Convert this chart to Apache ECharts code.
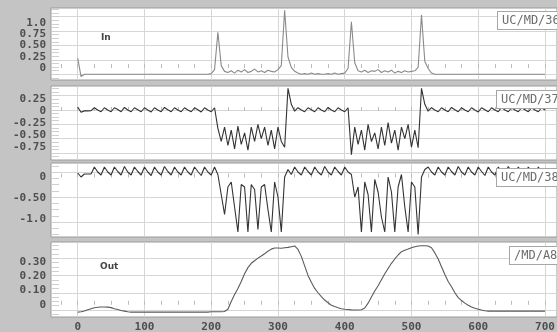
<!DOCTYPE html>
<html>
<head>
<meta charset="utf-8">
<script src="https://cdn.jsdelivr.net/npm/echarts@6/dist/echarts.min.js"></script>
<style>
  html, body { margin: 0; padding: 0; background: #c4c4c4; }
  #chart { width: 557px; height: 332px; }
</style>
</head>
<body>
<div id="chart"></div>
<script>
// sample positions (time axis)
const xs = [0,5,10,15,20,25,30,35,40,45,50,55,60,65,70,75,80,85,90,95,
  100,105,110,115,120,125,130,135,140,145,150,155,160,165,170,175,180,185,190,195,
  200,205,210,215,220,225,230,235,240,245,250,255,260,265,270,275,280,285,290,295,
  300,305,310,315,320,325,330,335,340,345,350,355,360,365,370,375,380,385,390,395,
  400,405,410,415,420,425,430,435,440,445,450,455,460,465,470,475,480,485,490,495,
  500,505,510,515,520,525,530,535,540,545,550,555,560,565,570,575,580,585,590,595,
  600,605,610,615,620,625,630,635,640,645,650,655,660,665,670,675,680,685,690,695,700];

// "In" trace
const inSig = [0.28,-0.04,0,0,0,0,0,0,0,0,
  0,0,0,0,0,0,0,0,0,0,
  0,0,0,0,0,0,0,0,0,0,
  0,0,0,0,0,0,0,0,0,0,
  0.01,0.08,0.73,0.15,0.05,0.03,0.06,0.02,0.07,0.04,
  0.08,0.03,0.05,0.09,0.04,0.06,0.03,0.07,0.05,0.04,
  0.08,0.15,1.11,0.3,0.12,0.05,0.02,0,0.01,0,
  0.02,0,0.01,0,0,0.01,0,0.02,0,0.01,
  0.02,0.1,0.91,0.2,0.06,0.04,0.07,0.03,0.06,0.05,
  0.08,0.03,0.06,0.04,0.07,0.02,0.05,0.03,0.06,0.04,
  0.05,0.06,0.12,1.03,0.22,0.1,0.02,0,0,0,
  0,0,0,0,0,0,0,0,0,0,
  0,0,0,0,0,0,0,0,0,0,
  0,0,0,0,0,0,0,0,0,0,
  0];

// UC/MD/37 trace
const md37 = [0.05,-0.04,-0.015,-0.015,-0.01,0.04,0,-0.03,0.04,0,
  -0.03,0.04,0.01,-0.03,0.045,0,-0.03,0.04,0.005,-0.03,
  0.04,0,-0.035,0.04,0,-0.03,0.045,0.005,-0.03,0.04,
  0,-0.03,0.04,0,-0.03,0.04,0.005,-0.035,0.04,0,
  -0.03,0.04,-0.32,-0.55,-0.3,-0.62,-0.35,-0.68,-0.28,-0.6,
  -0.4,-0.7,-0.3,-0.55,-0.25,-0.5,-0.3,-0.62,-0.35,-0.68,
  -0.3,-0.55,-0.65,0.38,0.1,-0.02,0.04,0,-0.03,0.04,
  0.005,-0.03,0.04,0,-0.03,0.045,0,-0.03,0.04,0,
  -0.03,0.04,-0.78,-0.3,-0.6,-0.35,-0.7,-0.25,-0.55,-0.4,
  -0.68,-0.3,-0.62,-0.22,-0.58,-0.35,-0.7,-0.3,-0.5,-0.25,
  -0.65,-0.35,-0.66,0.38,0.1,-0.02,0.04,0,-0.03,0.04,
  0,-0.03,0.045,0.005,-0.03,0.04,0,-0.03,0.04,0,
  -0.035,0.04,0.005,-0.03,0.04,0,-0.03,0.045,0,-0.03,
  0.04,0,-0.03,0.04,0.005,-0.03,0.04,0,-0.03,0.04,
  0];

// UC/MD/38 trace
const md38 = [-0.02,-0.1,-0.04,-0.04,-0.04,0.1,0,-0.06,0.1,0,
  -0.06,0.1,0.01,-0.06,0.11,0,-0.06,0.1,0.01,-0.06,
  0.1,0,-0.07,0.1,0,-0.06,0.11,0.01,-0.06,0.1,
  0,-0.06,0.1,0,-0.06,0.1,0.01,-0.07,0.1,0,
  -0.06,0.1,-0.05,-0.45,-0.85,-0.3,-0.2,-0.7,-1.2,-0.25,
  -0.3,-1.2,-0.25,-0.35,-1.15,-0.3,-0.25,-0.75,-1.2,-0.2,
  -0.5,-1.2,-0.1,0.05,-0.05,0.1,0,-0.06,0.1,0.01,
  -0.06,0.1,0,-0.06,0.11,0,-0.06,0.1,0.01,-0.06,
  0.1,0,-0.05,-0.5,-0.3,-1.2,-0.2,-0.45,-1.2,-0.15,
  -0.4,-0.9,-1.2,-0.1,-0.4,-1.2,-0.3,-0.05,-0.7,-1.2,
  -0.2,-0.3,-1.25,-0.1,0.05,0.1,0,-0.06,0.1,0,
  -0.06,0.1,0.01,-0.06,0.11,0,-0.06,0.1,0,-0.06,
  0.1,0.01,-0.07,0.1,0,-0.06,0.1,0,-0.06,0.11,
  0,-0.06,0.1,0.01,-0.06,0.1,0,-0.06,0.1,0,
  -0.06];

// "Out" trace
const outSig = [-0.012,-0.01,-0.005,0.002,0.008,0.013,0.016,0.018,0.018,0.017,
  0.014,0.008,0.003,-0.002,-0.006,-0.01,-0.012,-0.012,-0.012,-0.012,
  -0.012,-0.012,-0.012,-0.012,-0.012,-0.012,-0.012,-0.012,-0.012,-0.012,
  -0.012,-0.012,-0.012,-0.012,-0.012,-0.012,-0.012,-0.012,-0.012,-0.012,
  -0.01,-0.01,-0.01,-0.01,-0.008,0.005,0.05,0.09,0.125,0.165,
  0.21,0.245,0.27,0.285,0.3,0.312,0.325,0.34,0.352,0.358,
  0.358,0.357,0.36,0.362,0.366,0.37,0.35,0.31,0.255,0.2,
  0.16,0.125,0.1,0.078,0.058,0.042,0.028,0.02,0.013,0.008,
  0.005,0.003,0.001,0,0,0.002,0.012,0.04,0.075,0.11,
  0.14,0.175,0.21,0.24,0.27,0.295,0.318,0.337,0.345,0.352,
  0.36,0.366,0.37,0.371,0.371,0.37,0.36,0.33,0.295,0.25,
  0.205,0.165,0.135,0.1,0.072,0.055,0.04,0.028,0.018,0.01,
  0.005,0,-0.004,-0.006,-0.006,-0.006,-0.006,-0.006,-0.006,-0.006,
  -0.006,-0.006,-0.006,-0.006,-0.006,-0.006,-0.006,-0.006,-0.006,-0.006,
  -0.006];

// tick labels
const xTicks = [0, 100, 200, 300, 400, 500, 600, 700];
const yTicks1 = [0, 0.25, 0.5, 0.75, 1];
const yLabels1 = ['0', '0.25', '0.50', '0.75', '1.0'];
const yTicks2 = [0.25, 0, -0.25, -0.5, -0.75];
const yLabels2 = ['0.25', '0', '-0.25', '-0.50', '-0.75'];
const yTicks3 = [0, -0.5, -1];
const yLabels3 = ['0', '-0.50', '-1.0'];
const yTicks4 = [0, 0.1, 0.2, 0.3];
const yLabels4 = ['0', '0.10', '0.20', '0.30'];

const names = ['UC/MD/36', 'UC/MD/37', 'UC/MD/38', '/MD/A8'];

// layout of the four stacked panels
const panels = [
  { top: 8,   height: 72, data: inSig,  color: '#8a8a8a', range: [-0.1, 1.15],  labRange: [-0.265, 1.325], ticks: yTicks1, labels: yLabels1, fine: 0.0625 },
  { top: 86,  height: 74, data: md37,   color: '#333333', range: [-0.874, 0.42], labRange: [-1.021, 0.521], ticks: yTicks2, labels: yLabels2, fine: 0.0625 },
  { top: 163, height: 74, data: md38,   color: '#333333', range: [-1.3, 0.18],   labRange: [-1.417, 0.345], ticks: yTicks3, labels: yLabels3, fine: 0.125 },
  { top: 242, height: 75, data: outSig, color: '#5a5a5a', range: [-0.04, 0.393], labRange: [-0.086, 0.442], ticks: yTicks4, labels: yLabels4, fine: 0.025 }
];

function steps(a, b, d) {
  let out = [];
  for (let v = Math.ceil(a / d) * d; v <= b; v += d) out.push(+v.toFixed(4));
  return out;
}

const xFine = steps(-25, 718, 25);
const font = { fontFamily: 'DejaVu Sans Mono', fontSize: 11, fontWeight: 'bold', color: '#4e4e4e' };

let grid = [], xAxis = [], yAxis = [], series = [];
panels.forEach((p, i) => {
  grid.push({ left: 51, right: 0, top: p.top, height: p.height, show: true,
    backgroundColor: '#fff', borderColor: '#9a9a9a', borderWidth: 1, outerBoundsMode: 'none' });

  xAxis.push({
    type: 'value', gridIndex: i, min: -40, max: 718, position: 'bottom',
    axisLine: { show: false },
    axisTick: { show: false, customValues: xTicks },
    axisLabel: { show: i === 3, customValues: xTicks, margin: 5, ...font, fontSize: 11 },
    splitLine: { show: true, lineStyle: { color: '#d6d6d6', width: 1 } }
  });
  xAxis.push({
    type: 'value', gridIndex: i, min: -40, max: 718, position: 'bottom',
    axisLine: { show: false },
    axisTick: { show: true, inside: true, length: 4, customValues: xFine, lineStyle: { color: '#bcbcbc' } },
    axisLabel: { show: false },
    splitLine: { show: false }
  });

  // data axis, gives gridlines
  yAxis.push({
    type: 'value', gridIndex: i, min: p.range[0], max: p.range[1], position: 'left',
    axisLine: { show: false },
    axisTick: { show: false, customValues: p.ticks },
    axisLabel: { show: false },
    splitLine: { show: true, lineStyle: { color: '#d6d6d6', width: 1 } }
  });
  // label axis
  yAxis.push({
    type: 'value', gridIndex: i, min: p.labRange[0], max: p.labRange[1], position: 'left',
    axisLine: { show: false },
    axisTick: { show: false },
    axisLabel: {
      show: true, customValues: p.ticks, margin: 5, ...font,
      formatter: (v) => {
        let k = 0;
        p.ticks.forEach((t, j) => { if (Math.abs(t - v) < Math.abs(p.ticks[k] - v)) k = j; });
        return p.labels[k];
      }
    },
    splitLine: { show: false }
  });
  // small dashes on the left edge
  yAxis.push({
    type: 'value', gridIndex: i, min: p.range[0], max: p.range[1], position: 'left',
    axisLine: { show: false },
    axisTick: { show: true, inside: true, length: 8, customValues: steps(p.range[0], p.range[1], p.fine), lineStyle: { color: '#cfcfcf' } },
    axisLabel: { show: false },
    splitLine: { show: false }
  });

  series.push({
    type: 'line', xAxisIndex: 2 * i, yAxisIndex: 3 * i,
    data: xs.map((x, j) => [x, p.data[j]]),
    showSymbol: false, symbol: 'none',
    lineStyle: { color: p.color, width: 1.1 },
    z: 5
  });
});

const boxStyle = (t) => ({
  text: t, font: '12px "DejaVu Sans Mono"', fill: '#6e6e6e',
  backgroundColor: '#fff', borderColor: '#a6a6a6', borderWidth: 1, padding: [3, 4, 2, 4]
});

const myChart = echarts.init(document.getElementById('chart'));
myChart.setOption({
  animation: false,
  backgroundColor: '#c4c4c4',
  grid: grid,
  xAxis: xAxis,
  yAxis: yAxis,
  series: series,
  graphic: [
    { type: 'text', x: 498, y: 12, z: 100, style: boxStyle(names[0]) },
    { type: 'text', x: 497, y: 91, z: 100, style: boxStyle(names[1]) },
    { type: 'text', x: 497, y: 169, z: 100, style: boxStyle(names[2]) },
    { type: 'text', x: 510, y: 247, z: 100, style: boxStyle(names[3]) },
    { type: 'text', x: 101, y: 33, z: 100, style: { text: 'In', font: 'bold 9px "DejaVu Sans"', fill: '#444' } },
    { type: 'text', x: 100, y: 262, z: 100, style: { text: 'Out', font: 'bold 9px "DejaVu Sans"', fill: '#444' } }
  ]
});
</script>
</body>
</html>
